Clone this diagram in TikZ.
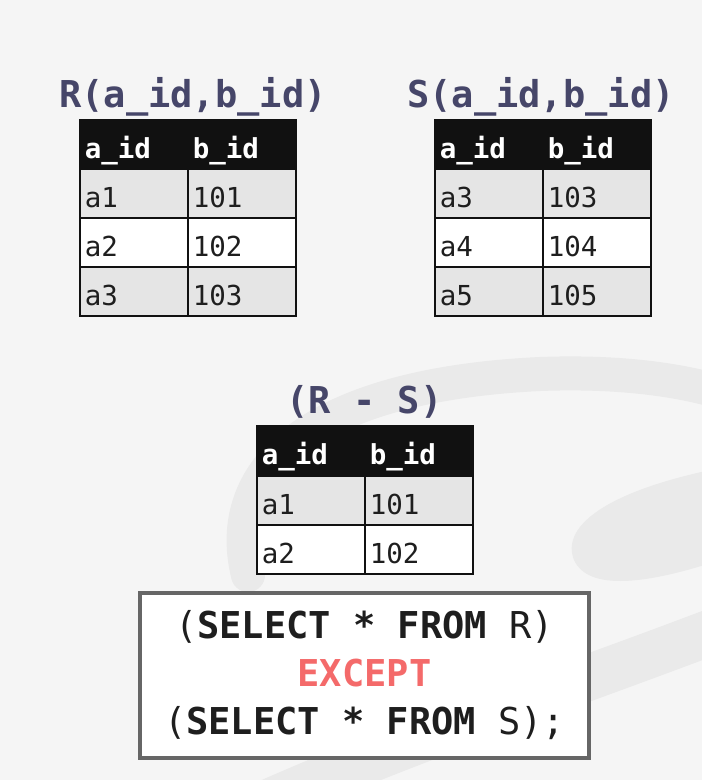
\documentclass[tikz,border=0pt]{standalone}
\usepackage{fontspec}
\newfontfamily\monofam{DejaVu Sans Mono}
\definecolor{bgc}{RGB}{245,245,245}
\definecolor{wmc}{RGB}{234,234,234}
\definecolor{titlec}{RGB}{70,70,105}
\definecolor{hdrc}{RGB}{17,17,17}
\definecolor{rowg}{RGB}{229,229,229}
\definecolor{txtc}{RGB}{30,30,30}
\definecolor{boxc}{RGB}{102,102,102}
\definecolor{exc}{RGB}{244,106,106}
\tikzset{
  cell/.style={draw=hdrc, line width=1.5pt, minimum height=49pt, text width=98pt,
    text height=28pt, text depth=0pt,
    inner xsep=5pt, inner ysep=0pt, align=left, anchor=north west, text=txtc,
    font=\monofam\fontsize{27.5}{30}\selectfont},
  hdr/.style={cell, fill=hdrc, text=white, font=\monofam\bfseries\fontsize{27.5}{30}\selectfont},
  grayrow/.style={cell, fill=rowg},
  whiterow/.style={cell, fill=white},
  ttl/.style={anchor=base, text=titlec, inner sep=0pt, font=\monofam\bfseries\fontsize{37}{40}\selectfont},
  wm/.style={draw=wmc, line width=34pt, line cap=round}
}
\begin{document}
\begin{tikzpicture}[x=1pt,y=-1pt]
\fill[bgc] (0,0) rectangle (702,780);
\useasboundingbox (0,0) rectangle (702,780);
% watermark
\draw[wm] (248,575) .. controls (222,470) and (310,385) .. (540,374) .. controls (620,371) and (680,380) .. (720,392);
\fill[wmc] (720,468) .. controls (610,490) and (560,525) .. (574,560) .. controls (590,595) and (660,580) .. (720,560) -- cycle;
\draw[wm, line width=46pt] (730,625) .. controls (560,690) and (420,735) .. (262,805);
% R table
\node[ttl] (rt) at (193,107) {R(a\_id,b\_id)};
\node[hdr] (rh1) at (79,119) {a\_id};
\node[hdr] (rh2) at (187,119) {b\_id};
\node[grayrow] (r11) at (79,168) {a1};
\node[grayrow] (r12) at (187,168) {101};
\node[whiterow] (r21) at (79,217) {a2};
\node[whiterow] (r22) at (187,217) {102};
\node[grayrow] (r31) at (79,266) {a3};
\node[grayrow] (r32) at (187,266) {103};
% S table
\node[ttl] (st) at (541,107) {S(a\_id,b\_id)};
\node[hdr] (sh1) at (434,119) {a\_id};
\node[hdr] (sh2) at (542,119) {b\_id};
\node[grayrow] (s11) at (434,168) {a3};
\node[grayrow] (s12) at (542,168) {103};
\node[whiterow] (s21) at (434,217) {a4};
\node[whiterow] (s22) at (542,217) {104};
\node[grayrow] (s31) at (434,266) {a5};
\node[grayrow] (s32) at (542,266) {105};
% result table
\node[ttl] (dt) at (364.5,413) {(R - S)};
\node[hdr] (dh1) at (256,425) {a\_id};
\node[hdr] (dh2) at (364,425) {b\_id};
\node[grayrow] (d11) at (256,475) {a1};
\node[grayrow] (d12) at (364,475) {101};
\node[whiterow] (d21) at (256,524) {a2};
\node[whiterow] (d22) at (364,524) {102};
% SQL box
\node[draw=boxc, fill=white, line width=4pt, minimum width=449pt, minimum height=165pt,
  align=center, text=txtc, font=\monofam\fontsize{37}{48}\selectfont] (sql) at (364.5,675)
  {(\textbf{SELECT * FROM} R)\\ \textcolor{exc}{\textbf{EXCEPT}}\\ (\textbf{SELECT * FROM} S);};
\end{tikzpicture}
\end{document}
